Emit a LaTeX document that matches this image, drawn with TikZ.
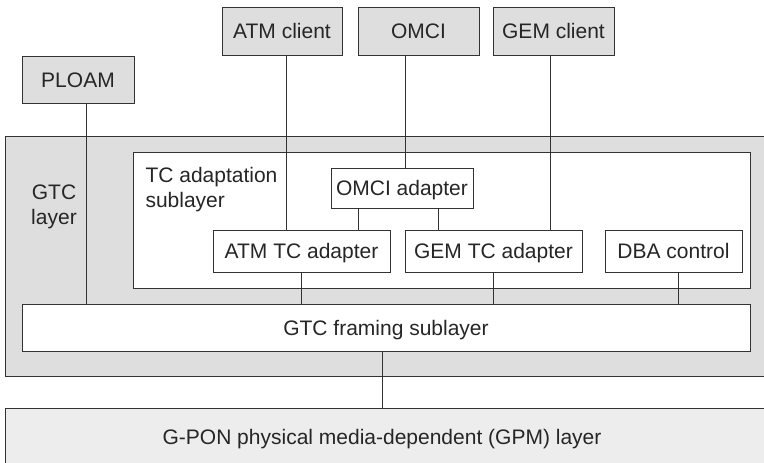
\documentclass[tikz,border=0pt]{standalone}
\usepackage{fontspec}
\setmainfont{Liberation Sans}
\begin{document}
\begin{tikzpicture}[x=1pt,y=-1pt,
  every node/.style={font=\fontsize{21}{25}\selectfont, text=black!85},
  box/.style={draw=black!80, line width=0.9pt, inner sep=0pt, anchor=center,
              text height=15pt, text depth=0pt},
  client/.style={box, fill=black!13},
  inner/.style={box, fill=white},
  wire/.style={draw=black!80, line width=0.9pt}]
\useasboundingbox (0,0) rectangle (764,463);
\clip (0,0) rectangle (764,463);

% upper clients
\node[client, minimum width=120, minimum height=48] (atmc)  at (282,31)    {ATM client};
\node[client, minimum width=121, minimum height=48] (omci)  at (418.5,31)  {OMCI};
\node[client, minimum width=121, minimum height=48] (gemc)  at (553.5,31)  {GEM client};
\node[client, minimum width=112, minimum height=47] (ploam) at (78,79.5)   {PLOAM};

% GTC layer and its sublayers
\node[draw=black!80, line width=0.9pt, fill=black!13, inner sep=0pt,
      minimum width=765, minimum height=240] (gtc) at (387.5,256) {};
\node[align=center] (gtclbl) at (54,207) {GTC\\layer};
\node[draw=black!80, line width=0.9pt, fill=white, inner sep=0pt,
      minimum width=617, minimum height=136] (tcad) at (441.5,220) {};
\node[anchor=west, align=left] (tclbl) at (142,190) {TC adaptation\\sublayer};
\node[inner, minimum width=142, minimum height=40] (omciad) at (402,188)   {OMCI adapter};
\node[inner, minimum width=177, minimum height=42] (atmtc)  at (301.5,251) {ATM TC adapter};
\node[inner, minimum width=177, minimum height=42] (gemtc)  at (493.5,251) {GEM TC adapter};
\node[inner, minimum width=137, minimum height=42] (dba)    at (673.5,251) {DBA control};
\node[inner, minimum width=728, minimum height=47] (frame)  at (386,327.5) {GTC framing sublayer};

% physical layer
\node[draw=black!80, line width=0.9pt, fill=black!7, inner sep=0pt,
      minimum width=765, minimum height=62] (gpon) at (387.5,439) {};
\node[box, draw=none] (gponlbl) at (382,437) {G-PON physical media-dependent (GPM) layer};

% connections
\draw[wire] (ploam.south -| 86,0)  -- (frame.north -| 86,0);
\draw[wire] (atmc.south -| 286,0)  -- (atmtc.north -| 286,0);
\draw[wire] (omci.south -| 405,0)  -- (omciad.north -| 405,0);
\draw[wire] (gemc.south -| 550,0)  -- (gemtc.north -| 550,0);
\draw[wire] (omciad.south -| 358,0) -- (atmtc.north -| 358,0);
\draw[wire] (omciad.south -| 438,0) -- (gemtc.north -| 438,0);
\draw[wire] (atmtc.south) -- (frame.north -| atmtc.south);
\draw[wire] (gemtc.south) -- (frame.north -| gemtc.south);
\draw[wire] (dba.south -| 678,0) -- (frame.north -| 678,0);
\draw[wire] (frame.south -| 382,0) -- (gpon.north -| 382,0);
\end{tikzpicture}
\end{document}
